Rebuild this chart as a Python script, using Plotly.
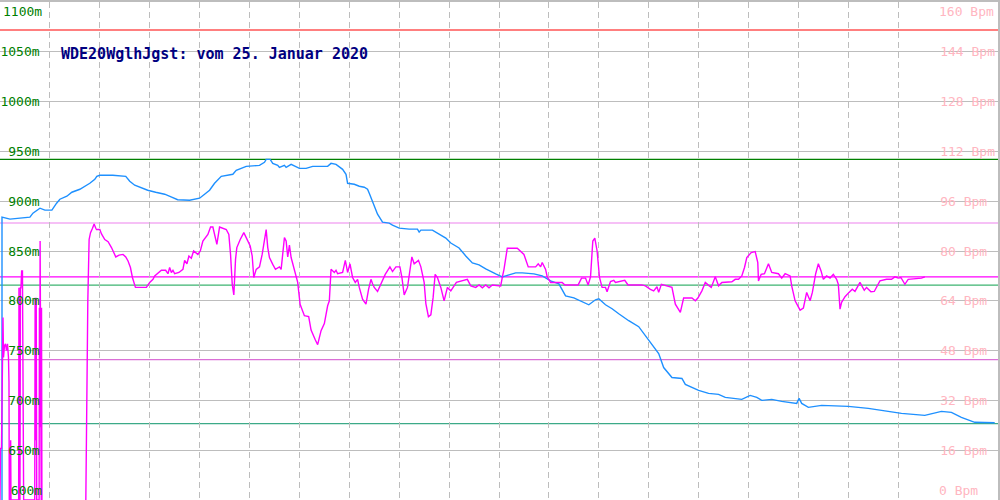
import plotly.graph_objects as go

# ---- Altitude series (metres) ----
ALT_T = [2, 2, 10, 30, 33, 40, 45, 52, 56.7, 60, 67, 72, 80, 85, 90, 95, 97, 100, 113, 126, 130, 135, 140, 148, 156, 165, 172, 178, 190,
         200, 205, 210, 215, 221.7, 233.3, 236.7, 246.7, 260, 265, 266.7, 270.7, 273.3, 278.3, 280, 285, 286.7, 291.7, 296.7, 300,
         306.7, 313.3, 328.3, 331.7, 336.7, 343.3, 346.7, 348.3, 355, 360, 365, 368.3, 370, 373.3, 378.3, 383.3, 390, 393.3, 400,
         410, 418.3, 420, 421.7, 433.3, 440, 446.7, 451.7, 460, 466.7, 473.3, 480, 486.7, 496.7, 503.3, 510, 516.7, 523.3, 535,
         543.3, 551.7, 560, 566.7, 575, 583.3, 590, 596.7, 600, 606.7, 613.3, 620, 630, 640, 650, 660, 665, 673.3, 683.3, 686.7,
         700, 710, 720, 726.7, 743.3, 751.7, 758.3, 763.3, 773.3, 783.3, 798.3, 800.7, 803.3, 810, 823.3, 850, 870, 883.3, 903.3,
         926.7, 943.3, 953.3, 963.3, 976.7, 996.7]
ALT_M = [600, 884, 882, 884, 888, 893, 891, 891, 898, 902, 905, 909, 912, 915, 918, 922, 925, 926, 926, 925, 920, 916, 914, 911, 909, 907, 904, 901.5, 901,
         903, 907, 911, 918, 925, 927, 931, 935, 936, 939, 942, 942, 938, 936, 934, 936, 934, 937, 935, 933,
         933, 935, 935, 938, 937, 932, 927, 918, 917, 915, 914, 912, 908, 900, 887, 879, 878, 876, 873,
         872, 872, 869, 871, 871, 867, 863, 858, 853, 845, 838, 836, 832, 827, 824, 826, 828, 828, 827,
         825, 820, 817, 805, 803, 799.5, 796, 801, 802, 796, 792, 787, 780, 774, 760, 747, 733, 723, 722, 716,
         710, 707, 706, 703, 701, 705, 703, 700, 701, 699, 697, 702, 697, 693, 695, 694, 692, 690, 687,
         685, 689, 688, 683, 678, 677.5]

# ---- Heart rate series (Bpm) ----
HR_T = [0, 0.5, 1.5, 2.5, 3, 3.5, 4.5, 5.5, 6.5, 7.5, 8.5, 9, 9.3, 10.3, 10.7, 11, 18.7, 19, 19.5, 20, 20.5, 21, 21.7, 22.5, 22.8,
        23.3, 23.7, 34.8, 35.2, 35.7, 36.3, 36.8, 39.2, 39.5, 39.8, 40.2, 40.6, 41.3, 41.6, 42, 64,
        86, 86.5, 87.5, 88, 89.3, 90.7, 92.7, 94.3, 96, 96.7, 100, 101.7, 105, 108.3, 111.7, 114, 116, 119.3, 123.3, 126, 128.3,
        130.7, 132.7, 135.7, 146.7, 150, 153.3, 155, 161.7, 166, 168.3, 170, 171.7, 173.3, 175, 179.3, 183.3, 185, 187.3, 189.3,
        191.7, 194, 198.3, 200.7, 203.3, 208.3, 211, 213.3, 216, 217.3, 220, 226.7, 229.3, 231, 232.7, 234.3, 236, 237.3, 240.7,
        244.3, 246.7, 250.7, 252.7, 254.3, 256.7, 260, 262.7, 265, 266.7, 268.3, 270, 273.3, 276, 280, 281.7, 285, 286.7, 288.3,
        290, 291.7, 295, 298.3, 300.7, 305, 309.3, 311.7, 316, 318.3, 321.7, 325, 328.3, 330, 331.7, 335, 336.7, 338.3, 343.3,
        346, 348.3, 350.7, 353.3, 356, 358.3, 360, 363.3, 366.7, 369.3, 371.7, 373.3, 375, 378.3, 381.7, 386, 390.7, 393.3, 396.7,
        400.7, 402.7, 405, 408.3, 410.7, 412.7, 415, 419.3, 421.7, 425, 426.7, 429.3, 431.7, 434, 436, 438.3, 441.7, 445, 448.3,
        451.7, 457.3, 468.3, 471.7, 476.7, 480, 483.3, 486.7, 490, 493.3, 501.7, 503.3, 505, 508.3, 518.3, 525, 529.3, 536.7,
        539.3, 541.7, 543.3, 546.7, 548.3, 551.7, 563.3, 566, 579.3, 582.7, 586.7, 589.3, 591.7, 594, 596, 598.3, 600.7, 603.3,
        606.7, 608.3, 611.7, 615, 616.7, 626, 629.3, 643.3, 646.7, 651.7, 655, 658.3, 660, 662.7, 673.3, 676.7, 681.7, 685, 693.3,
        696.7, 699.3, 703.3, 706.7, 710.7, 712.7, 716.7, 720, 723.3, 733.3, 736.7, 740, 743.3, 746, 748.3, 752.7, 756.7, 759.3,
        760, 762.7, 766, 770, 773.3, 780, 783.3, 786.7, 791.7, 793.3, 796.7, 801.7, 805, 808.3, 811.7, 814, 817.3, 820, 822.7,
        825, 828.3, 831.7, 835, 838.3, 840, 841.7, 843.3, 846.7, 850.7, 854, 856.7, 861.7, 866, 868.3, 872.7, 876, 881.7, 888.3,
        893.3, 896.7, 900, 902.7, 906.7, 910, 923.3, 926.7]
HR_BPM = [0, 16.6, 16.6, 47.4, 58.6, 45.8, 49.6, 50.2, 48, 50.2, 45.8, 37.8, 0, 0, 19.2, 0, 0, 68.2, 0, 0, 68.2, 68.2, 73.6, 73.6, 55.4,
          21.4, 0, 0, 65, 19.2, 65, 0, 0, 61.8, 23.4, 83.2, 0, 0, 61.8, 0, None,
          0, 23.4, 58.6, 64, 83.7, 85.9, 87.3, 88.7, 87.3, 86.9, 86.9, 85.5, 83.7, 83, 81.1, 79.5, 78.1, 78.7, 78.9, 78.1, 76.8,
          74.7, 71.5, 68.3, 68.3, 69.9, 70.9, 72, 73.8, 73.8, 72.7, 74.7, 73.1, 73.8, 72.7, 73.1, 74.1, 77, 75.9, 78.4,
          77.7, 80, 78.9, 80, 83.2, 85.3, 87.7, 87.7, 83.2, 82.1, 87.7, 86.9, 85.3, 78.9, 69.3, 65.9, 77.3, 81.1, 83.7,
          85.9, 84.3, 81.6, 78.4, 71.5, 74.1, 74.9, 78.9, 83.2, 86.9, 81.1, 77.9, 75.7, 74.1, 74.9, 74.1, 84.3, 83.2, 78.1,
          81.9, 77.9, 73.6, 69.9, 62.9, 59.2, 58.9, 54.6, 51.4, 49.9, 54.4, 56.7, 62.4, 64, 74.1, 73.1, 73.8, 72.7, 73.1,
          77, 73.1, 75.9, 71.5, 69.9, 70.9, 68.3, 64.5, 62.9, 67.7, 70.9, 69.5, 68.3, 67, 69.5, 72.5, 74.9, 73.4, 74.9,
          74.9, 71.5, 65.9, 68.3, 73.1, 78.1, 75.9, 77, 74.9, 69.9, 63.1, 58.9, 59.5, 65.1, 72.5, 71.5, 68.3, 64, 68.3,
          67.2, 69.9, 70.9, 68.8, 68.3, 69.1, 68.2, 69.1, 68.2, 69.1, 68.8, 71.5, 74.1, 80.9, 80.9, 78.9, 74.9, 74.9,
          75.9, 74.9, 76.3, 74.1, 71.7, 69.9, 69.9, 69.1, 69.1, 71.3, 71.3, 69.1, 71.7, 83.2, 84.1, 80, 71.5, 68.3,
          68.3, 66.9, 70.2, 70.6, 69.9, 70.6, 69.1, 69.1, 68.8, 67.7, 67.2, 68.5, 66.7, 69.3, 68.3, 62.9, 60.3, 64.9, 64.9,
          64, 64.9, 67.2, 69.9, 68.8, 68.3, 71.7, 68.8, 69.9, 70.1, 70.9, 70.9, 72, 74.7, 77.9, 79.5, 79.8, 76.3,
          70.4, 72.5, 72.7, 75.9, 73.1, 72.7, 71.3, 72.7, 72, 68.8, 64, 61, 61.7, 66.7, 64, 66.7, 72.7, 75.9, 73.6,
          70.9, 72, 71.3, 72.5, 70.9, 69.3, 61.3, 63.5, 65.3, 66.7, 67.7, 67, 69.9, 67.4, 68.3, 66.9, 67, 70.4, 70.9,
          70.9, 71.7, 71.3, 71.5, 69.3, 70.9, 71.3, 71.7]

# ---- Reference levels ----
HR_LIMIT = 151.0      # red
ALT_MAX = 942.0       # dark green
HR_MAX = 89.0         # violet
HR_AVG = 71.7         # magenta
ALT_AVG = 815.7       # sea green
HR_LOW = 45.1         # orchid
ALT_MIN = 676.7       # sea green

# ---- Axes ticks ----
ALT_TICKS = [600, 650, 700, 750, 800, 850, 900, 950, 1000, 1050, 1100]
HR_TICKS = [0, 16, 32, 48, 64, 80, 96, 112, 128, 144, 160]
TITLE = "WDE20WglhJgst: vom 25. Januar 2020"

NB = "\u00a0"
MONO = "DejaVu Sans Mono"
alt_labels = [(f"{v}m").rjust(5, NB) for v in ALT_TICKS]
hr_labels = [(f"{v} Bpm").ljust(7, NB) for v in HR_TICKS]

fig = go.Figure()
fig.add_trace(go.Scatter(x=ALT_T, y=ALT_M, mode="lines", line=dict(color="#1e90ff", width=1.4),
                         yaxis="y", hoverinfo="skip"))
fig.add_trace(go.Scatter(x=HR_T, y=HR_BPM, mode="lines", line=dict(color="#ff00ff", width=1.4),
                         yaxis="y2", hoverinfo="skip", connectgaps=False))

refs = [(HR_LIMIT, "y2", "#ff0000"), (ALT_MAX, "y", "#008000"), (HR_MAX, "y2", "#ee82ee"),
        (HR_AVG, "y2", "#ff00ff"), (ALT_AVG, "y", "#3cb371"), (HR_LOW, "y2", "#da70d6"),
        (ALT_MIN, "y", "#3caa88")]
for val, yref, col in refs:
    fig.add_shape(type="line", xref="paper", x0=0, x1=1, yref=yref, y0=val, y1=val,
                  line=dict(color=col, width=1.2), layer="below")

# edge tick labels (kept inside the frame)
fig.add_annotation(x=1, y=ALT_TICKS[-1], xref="x", yref="y", text=alt_labels[-1], showarrow=False,
                   xanchor="left", yanchor="top", font=dict(family=MONO, size=13, color="#008000"))
fig.add_annotation(x=1, y=ALT_TICKS[0], xref="x", yref="y", text=alt_labels[0], showarrow=False,
                   xanchor="left", yanchor="bottom", font=dict(family=MONO, size=13, color="#008000"))
fig.add_annotation(x=939, y=HR_TICKS[-1], xref="x", yref="y2", text=hr_labels[-1], showarrow=False,
                   xanchor="left", yanchor="top", font=dict(family=MONO, size=13, color="#ffb6c1"))
fig.add_annotation(x=939, y=HR_TICKS[0], xref="x", yref="y2", text=hr_labels[0], showarrow=False,
                   xanchor="left", yanchor="bottom", font=dict(family=MONO, size=13, color="#ffb6c1"))
fig.add_annotation(x=59, y=1048, xref="x", yref="y", text=f"<b>{TITLE}</b>", showarrow=False,
                   xanchor="left", yanchor="middle", font=dict(family=MONO, size=15, color="#000080"))

fig.update_layout(
    width=1000, height=500, margin=dict(l=0, r=0, t=0, b=0),
    plot_bgcolor="white", paper_bgcolor="white", showlegend=False,
    xaxis=dict(range=[0, 1000], dtick=50, tick0=0, showticklabels=False, ticks="",
               showgrid=True, gridcolor="#bdbdbd", gridwidth=1, griddash="6px,4px",
               zeroline=False, showline=True, linecolor="#bdbdbd", linewidth=2, mirror=True, fixedrange=True),
    yaxis=dict(range=[600, 1100], tickvals=ALT_TICKS[1:-1], ticktext=alt_labels[1:-1],
               ticklabelposition="inside", ticks="", showgrid=True, gridcolor="#bdbdbd", gridwidth=1,
               zeroline=False, showline=True, linecolor="#bdbdbd", linewidth=2, mirror=True,
               tickfont=dict(family=MONO, size=13, color="#008000"), fixedrange=True),
    yaxis2=dict(range=[0, 160], overlaying="y", side="right", tickvals=HR_TICKS[1:-1],
                ticktext=hr_labels[1:-1], ticklabelposition="inside", ticks="", showgrid=False,
                zeroline=False, showline=False,
                tickfont=dict(family=MONO, size=13, color="#ffb6c1"), fixedrange=True),
)

fig.write_html("out.html", config={"displayModeBar": False, "staticPlot": True},
               post_script="document.body.style.margin='0';document.body.style.overflow='hidden';")
